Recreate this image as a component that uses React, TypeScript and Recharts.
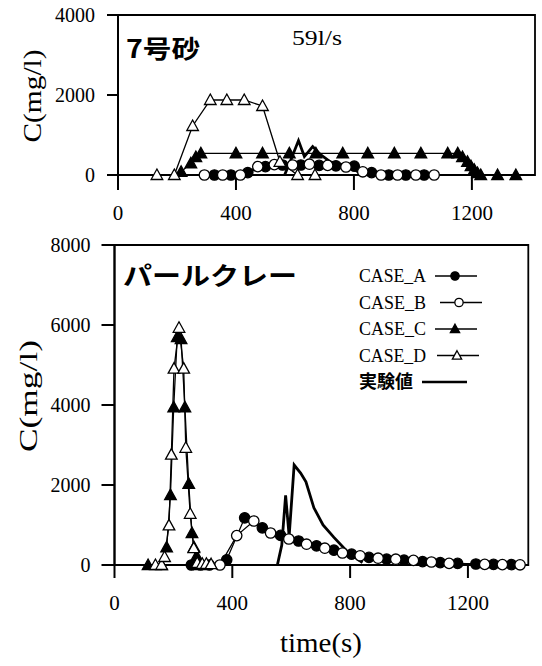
import React from 'react'
import { LineChart, Line, XAxis, YAxis, ReferenceArea, Legend } from 'recharts'

// time (s), concentration (mg/l)
// upper panel: 7号砂, 59l/s
const sandA = [[327, 0], [383, 0], [440, 60], [500, 210], [558, 250], [620, 250], [682, 240], [739, 230], [801, 220], [860, 60], [918, 0], [976, 0], [1038, 0]]
const sandB = [[293, 0], [355, 0], [415, 0], [474, 210], [530, 260], [592, 250], [649, 270], [711, 240], [773, 200], [830, 80], [892, 0], [948, 0], [1010, 0], [1072, 0]]
const sandC = [[214, 80], [247, 290], [264, 450], [281, 540], [400, 540], [490, 540], [581, 540], [671, 540], [762, 540], [847, 540], [937, 540], [1027, 540], [1118, 540], [1152, 540], [1168, 450], [1185, 330], [1197, 220], [1208, 130], [1219, 50], [1230, 0], [1287, 0], [1349, 0]]
const sandD = [[132, 0], [191, 0], [253, 1225], [313, 1875], [369, 1875], [428, 1875], [490, 1725], [549, 330], [609, 0], [668, 0]]
const sandExp = [[565, 0], [586, 375], [612, 860], [632, 460], [660, 710], [688, 500], [720, 330], [760, 260], [800, 150], [830, 0]]

// lower panel: パールクレー
const clayA = [[261, 0], [322, 0], [381, 130], [442, 1180], [502, 930], [564, 740], [625, 600], [686, 480], [745, 370], [805, 270], [864, 190], [924, 145], [983, 120], [1046, 85], [1106, 60], [1165, 40], [1227, 25], [1287, 15], [1348, 10]]
const clayB = [[292, 0], [358, 0], [415, 735], [473, 1100], [530, 800], [592, 650], [652, 520], [714, 420], [774, 300], [834, 230], [895, 170], [955, 145], [1015, 115], [1076, 75], [1136, 40], [1257, 15], [1317, 10], [1377, 5]]
const clayC = [[114, 0], [160, 0], [177, 440], [190, 1750], [201, 3940], [213, 5700], [226, 5650], [239, 3940], [252, 2030], [263, 800], [270, 440], [279, 220], [290, 0]]
const clayD = [[139, 0], [160, 0], [170, 200], [185, 990], [193, 2760], [202, 4910], [219, 5930], [235, 4910], [242, 2930], [257, 1280], [269, 420], [281, 50], [298, 30], [312, 30], [328, 20]]
const clayExp = [[553, 0], [568, 500], [581, 1740], [593, 720], [610, 2500], [632, 2300], [650, 2080], [677, 1430], [708, 1000], [745, 690], [790, 340], [842, 60]]

const xTicks = [0, 400, 800, 1200]
const sandYTicks = [0, 2000, 4000]
const clayYTicks = [0, 2000, 4000, 6000, 8000]

const legendNames = ['CASE_A', 'CASE_B', 'CASE_C', 'CASE_D', '実験値']

const SERIF = 'Liberation Serif, DejaVu Serif, serif'
const JP = 'Noto Sans CJK JP, Noto Sans, sans-serif'

type Kind = 'dot' | 'ring' | 'tri' | 'otri' | 'none'

const toPts = (rows: number[][]) => rows.map(([t, c]) => ({ t, c }))

function Marker({ cx, cy, kind, s = 1 }: { cx?: number; cy?: number; kind: Kind; s?: number }) {
  if (cx == null || cy == null || kind === 'none') return null
  const fill = kind === 'dot' || kind === 'tri' ? '#000' : '#fff'
  if (kind === 'dot' || kind === 'ring') {
    return <circle cx={cx} cy={cy} r={5.2 * s} fill={fill} stroke="#000" strokeWidth={1.3} />
  }
  const pts = `${cx},${cy - 6 * s} ${cx + 5.8 * s},${cy + 4.5 * s} ${cx - 5.8 * s},${cy + 4.5 * s}`
  return <polygon points={pts} fill={fill} stroke="#000" strokeWidth={1.3} />
}

const series = (a: number[][], b: number[][], c: number[][], d: number[][], e: number[][]) => [
  { id: 'a', name: legendNames[0], pts: toPts(a), kind: 'dot' as Kind, w: 1.3 },
  { id: 'b', name: legendNames[1], pts: toPts(b), kind: 'ring' as Kind, w: 1.3 },
  { id: 'c', name: legendNames[2], pts: toPts(c), kind: 'tri' as Kind, w: 1.3 },
  { id: 'd', name: legendNames[3], pts: toPts(d), kind: 'otri' as Kind, w: 1.3 },
  { id: 'e', name: legendNames[4], pts: toPts(e), kind: 'none' as Kind, w: 2.8 },
]

function LegendBox() {
  const rows = [
    { kind: 'dot' as Kind, x1: 80, x2: 122, m: 100 },
    { kind: 'ring' as Kind, x1: 85, x2: 127, m: 104 },
    { kind: 'tri' as Kind, x1: 80, x2: 122, m: 100 },
    { kind: 'otri' as Kind, x1: 82, x2: 124, m: 102 },
    { kind: 'none' as Kind, x1: 67, x2: 112, m: 0 },
  ]
  return (
    <svg width={180} height={135}>
      {rows.map((r, i) => {
        const cy = 16 + i * 26.5
        return (
          <g key={i}>
            <text
              x={4}
              y={cy + 6}
              style={{ fontFamily: i === 4 ? JP : SERIF, fontSize: 18, fontWeight: i === 4 ? 700 : 400 }}
              fill="#000"
              textLength={i === 4 ? 54 : 67}
              lengthAdjust="spacingAndGlyphs"
            >
              {legendNames[i]}
            </text>
            <line x1={r.x1} x2={r.x2} y1={cy} y2={cy} stroke="#000" strokeWidth={i === 4 ? 2.6 : 1.5} />
            <Marker cx={r.m} cy={cy} kind={r.kind} s={0.8} />
          </g>
        )
      })}
    </svg>
  )
}

function Panel({ height, margin, xMax, yMax, yTicks, data, tickSize, xTickMargin, yTickMargin, children, legend }: any) {
  return (
    <LineChart width={542} height={height} margin={margin} style={{ fontFamily: SERIF }}>
      <XAxis
        dataKey="t"
        type="number"
        domain={[0, xMax]}
        ticks={xTicks}
        allowDataOverflow
        height={30}
        stroke="#000"
        strokeWidth={2}
        tickSize={tickSize.x}
        tickMargin={xTickMargin}
        tick={{ fill: '#000', fontSize: 21, style: { fontFamily: SERIF } }}
      />
      <YAxis
        type="number"
        domain={[0, yMax]}
        ticks={yTicks}
        width={60}
        stroke="#000"
        strokeWidth={2}
        tickSize={tickSize.y}
        tickMargin={yTickMargin}
        tick={{ fill: '#000', fontSize: 20, style: { fontFamily: SERIF } }}
      />
      <ReferenceArea x1={0} x2={xMax} y1={0} y2={yMax} fill="none" stroke="#000" strokeWidth={1.8} ifOverflow="visible" />
      {data.map((s: any) => (
        <Line
          key={s.id}
          data={s.pts}
          dataKey="c"
          name={s.name}
          type="linear"
          stroke="#000"
          strokeWidth={s.w}
          isAnimationActive={false}
          activeDot={false}
          dot={(p: any) => <Marker key={`${s.id}-${p.index}`} cx={p.cx} cy={p.cy} kind={s.kind} />}
        />
      ))}
      {legend && (
        <Legend
          layout="vertical"
          align="center"
          verticalAlign="middle"
          wrapperStyle={{ left: 355, top: 30, width: 180, height: 135 }}
          content={() => <LegendBox />}
        />
      )}
      {children}
    </LineChart>
  )
}

export default function App() {
  return (
    <div style={{ position: 'absolute', left: 0, top: 0, width: 542, height: 666, background: '#fff' }}>
      <div style={{ position: 'absolute', left: 0, top: 0 }}>
        <Panel
          height={230}
          margin={{ top: 15, right: 7, bottom: 25, left: 58 }}
          xMax={1414}
          yMax={4000}
          yTicks={sandYTicks}
          data={series(sandA, sandB, sandC, sandD, sandExp)}
          tickSize={{ x: 15, y: 11 }}
          xTickMargin={15}
          yTickMargin={12}
        >
          <text x={126} y={58} style={{ fontFamily: JP, fontSize: 25, fontWeight: 700 }} fill="#000" textLength={74} lengthAdjust="spacingAndGlyphs">
            7号砂
          </text>
          <text x={292} y={45} style={{ fontFamily: SERIF, fontSize: 22 }} fill="#000" textLength={50} lengthAdjust="spacingAndGlyphs">
            59l/s
          </text>
          <text
            x={32}
            y={96}
            transform="rotate(-90 32 96)"
            textAnchor="middle"
            dominantBaseline="central"
            style={{ fontFamily: SERIF, fontSize: 25 }}
            fill="#000"
            textLength={93}
            lengthAdjust="spacingAndGlyphs"
          >
            C(mg/l)
          </text>
        </Panel>
      </div>
      <div style={{ position: 'absolute', left: 0, top: 230 }}>
        <Panel
          height={436}
          margin={{ top: 15, right: 13.7, bottom: 71, left: 54.5 }}
          xMax={1405}
          yMax={8000}
          yTicks={clayYTicks}
          data={series(clayA, clayB, clayC, clayD, clayExp)}
          tickSize={{ x: 13, y: 13 }}
          xTickMargin={17}
          yTickMargin={11}
          legend
        >
          <text x={123} y={55} style={{ fontFamily: JP, fontSize: 25, fontWeight: 700 }} fill="#000" textLength={174} lengthAdjust="spacingAndGlyphs">
            パールクレー
          </text>
          <text
            x={28}
            y={166}
            transform="rotate(-90 28 166)"
            textAnchor="middle"
            dominantBaseline="central"
            style={{ fontFamily: SERIF, fontSize: 26 }}
            fill="#000"
            textLength={112}
            lengthAdjust="spacingAndGlyphs"
          >
            C(mg/l)
          </text>
          <text x={321} y={422} textAnchor="middle" style={{ fontFamily: SERIF, fontSize: 27 }} fill="#000" textLength={82} lengthAdjust="spacingAndGlyphs">
            time(s)
          </text>
        </Panel>
      </div>
    </div>
  )
}
